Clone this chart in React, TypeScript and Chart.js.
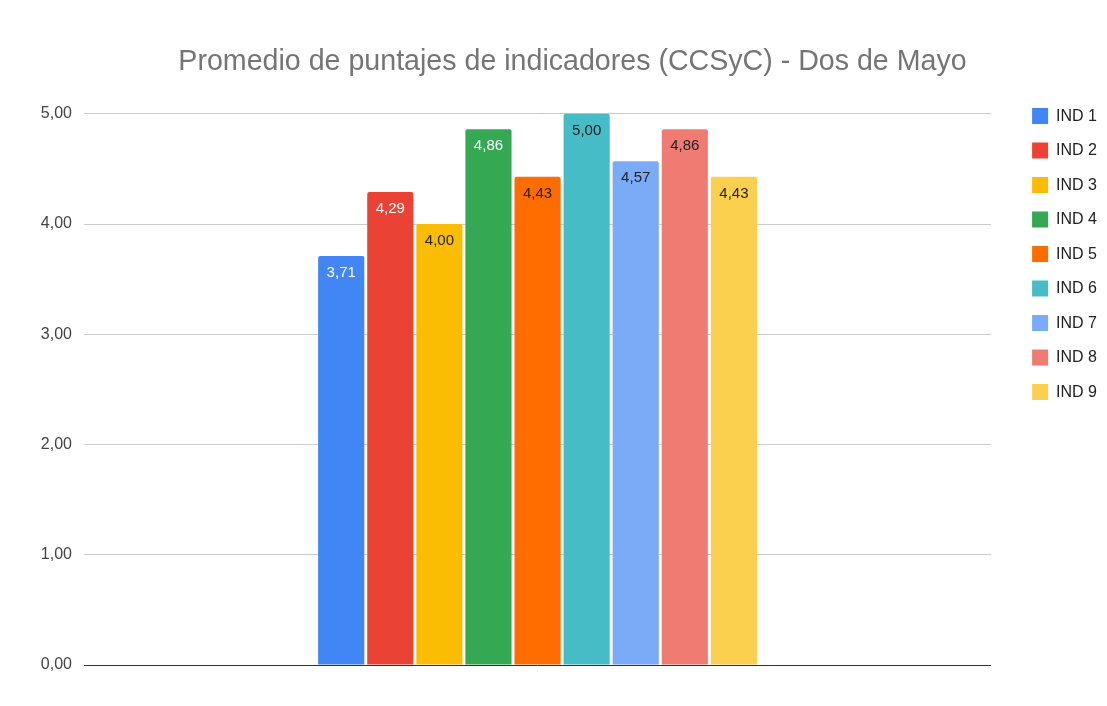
import React, { useEffect, useRef } from "react";
import { Chart, registerables } from "chart.js";

Chart.register(...registerables);

const categories = [""];
const seriesNames = ["IND 1", "IND 2", "IND 3", "IND 4", "IND 5", "IND 6", "IND 7", "IND 8", "IND 9"];
const seriesValues = [3.71, 4.29, 4.0, 4.86, 4.43, 5.0, 4.57, 4.86, 4.43];
const seriesColors = ["#4285F4", "#EA4335", "#FBBC04", "#34A853", "#FF6D01", "#46BDC6", "#7BAAF7", "#F07B72", "#FCD04F"];
const labelColors = ["#ffffff", "#ffffff", "#222222", "#ffffff", "#222222", "#222222", "#222222", "#222222", "#222222"];
const yTicks = [0, 1, 2, 3, 4, 5];
const titleText = "Promedio de puntajes de indicadores (CCSyC) - Dos de Mayo";

const FONT = "'Liberation Sans', Arial, sans-serif";

const fmt = (v: number) => v.toFixed(2).replace(".", ",");

const valueLabels = {
  id: "valueLabels",
  afterDatasetsDraw(chart: any) {
    const ctx = chart.ctx;
    ctx.save();
    ctx.font = `15px ${FONT}`;
    ctx.textAlign = "center";
    ctx.textBaseline = "middle";
    chart.data.datasets.forEach((ds: any, i: number) => {
      const meta = chart.getDatasetMeta(i);
      meta.data.forEach((el: any, j: number) => {
        ctx.fillStyle = labelColors[i];
        ctx.fillText(fmt(ds.data[j]), el.x, el.y + 17);
      });
    });
    ctx.restore();
  },
};

const chartTitle = {
  id: "chartTitle",
  afterDraw(chart: any) {
    const ctx = chart.ctx;
    ctx.save();
    ctx.font = `28.6px ${FONT}`;
    ctx.fillStyle = "#757575";
    ctx.textAlign = "center";
    ctx.textBaseline = "middle";
    ctx.fillText(titleText, 572.5, 62);
    ctx.restore();
  },
};

export default function App() {
  const ref = useRef<HTMLCanvasElement | null>(null);
  useEffect(() => {
    document.body.style.margin = "0";
    if (!ref.current) return;
    const chart = new Chart(ref.current, {
      type: "bar",
      data: {
        labels: categories,
        datasets: seriesNames.map((name, i) => ({
          label: name,
          data: [seriesValues[i]],
          backgroundColor: seriesColors[i],
          borderWidth: 0,
          borderRadius: 2,
          categoryPercentage: 0.487,
          barPercentage: 0.94,
        })),
      },
      options: {
        animation: false,
        responsive: false,
        layout: { padding: { left: 0, right: 0, top: 89.6, bottom: 41 } },
        plugins: {
          title: { display: false },
          legend: {
            position: "right",
            align: "start",
            labels: {
              boxWidth: 16,
              boxHeight: 16,
              padding: 18.5,
              color: "#222222",
              font: { family: FONT, size: 16 },
            },
          },
          tooltip: { enabled: false },
        },
        scales: {
          x: { display: false },
          y: {
            min: 0,
            max: 5.22,
            afterFit: (s: any) => {
              s.width = 84;
            },
            afterBuildTicks: (s: any) => {
              s.ticks = yTicks.map((v) => ({ value: v }));
            },
            ticks: {
              padding: 12,
              color: "#444444",
              font: { family: FONT, size: 16 },
              callback: (v: any) => fmt(Number(v)),
            },
            grid: {
              drawTicks: false,
              color: (c: any) => (c.tick && c.tick.value === 0 ? "#333333" : "#cccccc"),
              lineWidth: 1,
            },
            border: { display: false },
          },
          y2: {
            type: "linear",
            position: "right",
            display: true,
            afterFit: (s: any) => {
              s.width = 22.5;
            },
            ticks: { display: false },
            grid: { display: false, drawTicks: false },
            border: { display: false },
          },
        },
      },
      plugins: [valueLabels, chartTitle],
    });
    return () => chart.destroy();
  }, []);
  return <canvas ref={ref} width={1107} height={706} style={{ display: "block" }} />;
}
